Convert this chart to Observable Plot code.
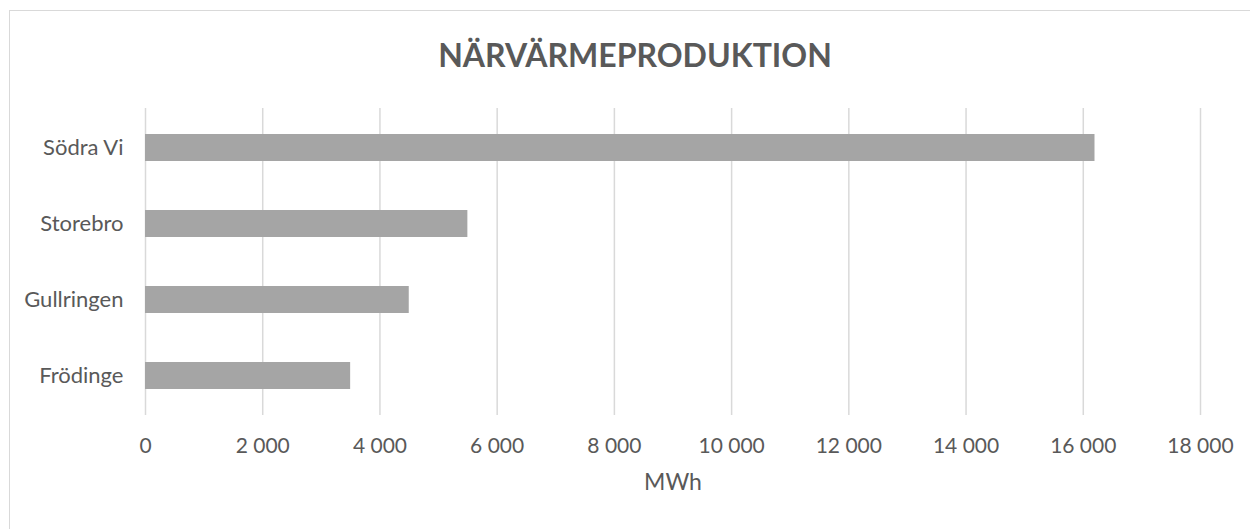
<!DOCTYPE html>
<html>
<head>
<meta charset="utf-8">
<script src="https://cdn.jsdelivr.net/npm/d3@7"></script>
<script src="https://cdn.jsdelivr.net/npm/@observablehq/plot@0.6"></script>
<style>
  html, body { margin: 0; padding: 0; background: #fff; overflow: hidden; }
  #wrap { position: relative; width: 1250px; height: 529px; overflow: hidden; font-family: Lato, "Open Sans", sans-serif; }
  #frame { position: absolute; left: 9px; top: 10px; width: 1300px; height: 600px; border: 1.5px solid #d9d9d9; box-sizing: border-box; }
  #title { position: absolute; left: 9px; width: 1252px; top: 39px; text-align: center; font-weight: 700; font-size: 32px; line-height: 32px; color: #595959; margin: 0; }
  #chart { position: absolute; left: 0; top: 0; }
</style>
</head>
<body>
<div id="wrap">
  <div id="frame"></div>
  <div id="chart"></div>
  <h1 id="title">NÄRVÄRMEPRODUKTION</h1>
</div>
<script>
const categories = ["Södra Vi", "Storebro", "Gullringen", "Frödinge"];
const values = [16200, 5500, 4500, 3500];
const xTicks = [0, 2000, 4000, 6000, 8000, 10000, 12000, 14000, 16000, 18000];
const xLabel = "MWh";

const data = categories.map((c, i) => ({name: c, value: values[i]}));
const fmt = d => d3.format(",")(d).replace(/,/g, " ");

const chart = Plot.plot({
  width: 1250,
  height: 529,
  marginLeft: 145,
  marginRight: 50,
  marginTop: 108,
  marginBottom: 114,
  style: {fontFamily: "Lato, 'Open Sans', sans-serif", background: "transparent", color: "#595959"},
  x: {domain: [0, 18000], ticks: xTicks},
  y: {domain: categories, paddingInner: 0.64, paddingOuter: 0.32},
  marks: [
    Plot.gridX(xTicks, {stroke: "#d9d9d9", strokeOpacity: 1, strokeWidth: 1.5}),
    Plot.barX(data, {x: "value", y: "name", fill: "#a5a5a5"}),
    Plot.axisX(xTicks, {tickSize: 0, tickPadding: 23, tickFormat: fmt, fontSize: 21, fill: "#595959", label: null}),
    Plot.axisY({tickSize: 0, tickPadding: 22, fontSize: 22, fill: "#595959", label: null}),
    Plot.text([xLabel], {frameAnchor: "bottom", dy: 74, fontSize: 23, fill: "#595959", text: d => d})
  ]
});
document.getElementById("chart").appendChild(chart);
</script>
</body>
</html>
